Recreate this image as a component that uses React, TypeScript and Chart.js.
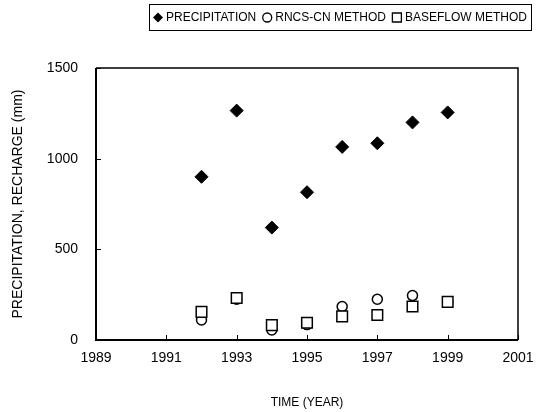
import React, { useEffect, useRef } from "react";
import { Chart, registerables } from "chart.js";

Chart.register(...registerables);

const years = [1992, 1993, 1994, 1995, 1996, 1997, 1998, 1999];
const precipitation = [900, 1265, 620, 815, 1065, 1085, 1200, 1255];
const rncsCn = [110, 225, 55, 85, 185, 225, 245, 210];
const baseflow = [155, 232, 82, 95, 130, 138, 185, 210];
const xTicks = [1989, 1991, 1993, 1995, 1997, 1999, 2001];
const yTicks = [0, 500, 1000, 1500];
const seriesLabels = ["PRECIPITATION", "RNCS-CN METHOD", "BASEFLOW METHOD"];

const FONT = "'Liberation Sans', Arial, sans-serif";

function drawMarker(ctx: CanvasRenderingContext2D, style: string, x: number, y: number) {
  ctx.beginPath();
  if (style === "rectRot") {
    const r = 5;
    ctx.moveTo(x, y - r);
    ctx.lineTo(x + r, y);
    ctx.lineTo(x, y + r);
    ctx.lineTo(x - r, y);
    ctx.closePath();
    ctx.fillStyle = "#000";
    ctx.fill();
  } else if (style === "circle") {
    ctx.arc(x, y, 4.5, 0, Math.PI * 2);
    ctx.fillStyle = "#fff";
    ctx.fill();
    ctx.lineWidth = 1.3;
    ctx.stroke();
  } else {
    ctx.rect(x - 4.5, y - 4.5, 9, 9);
    ctx.fillStyle = "#fff";
    ctx.fill();
    ctx.lineWidth = 1.3;
    ctx.stroke();
  }
}

const framePlugin = {
  id: "frame",
  afterDatasetsDraw(chart: any) {
    const { ctx, chartArea } = chart;
    const { left, right, top, bottom } = chartArea;
    const xs = chart.scales.x;
    const ys = chart.scales.y;
    ctx.save();
    ctx.strokeStyle = "#000";
    ctx.lineWidth = 1.5;
    ctx.beginPath();
    ctx.moveTo(left, top);
    ctx.lineTo(right, top);
    ctx.lineTo(right, bottom);
    ctx.stroke();
    ctx.lineWidth = 2;
    ctx.beginPath();
    ctx.moveTo(left, top);
    ctx.lineTo(left, bottom);
    ctx.lineTo(right, bottom);
    ctx.stroke();
    ctx.lineWidth = 1;
    ctx.beginPath();
    xTicks.forEach((v) => {
      const px = Math.round(xs.getPixelForValue(v)) + 0.5;
      ctx.moveTo(px, bottom);
      ctx.lineTo(px, bottom - 5);
    });
    yTicks.forEach((v) => {
      const py = Math.round(ys.getPixelForValue(v)) + 0.5;
      ctx.moveTo(left, py);
      ctx.lineTo(left + 5, py);
    });
    ctx.stroke();
    ctx.restore();
  },
  afterDraw(chart: any) {
    const { ctx } = chart;
    ctx.save();
    ctx.font = `12px ${FONT}`;
    ctx.textBaseline = "middle";
    ctx.textAlign = "left";
    const markerW = 10;
    const gapMT = 3;
    const gapItems = 6;
    const padX = 4;
    const items = chart.data.datasets.map((d: any) => ({
      label: d.label,
      style: d.pointStyle,
      w: ctx.measureText(d.label).width,
    }));
    const total =
      items.reduce((s: number, it: any) => s + markerW + gapMT + it.w, 0) + gapItems * (items.length - 1) + padX * 2;
    const cx = 340;
    const x0 = Math.round(cx - total / 2);
    const y0 = 4;
    const h = 26;
    const cy = y0 + h / 2 + 0.5;
    ctx.strokeStyle = "#000";
    ctx.lineWidth = 1;
    ctx.strokeRect(x0 + 0.5, y0 + 0.5, Math.round(total), h);
    let x = x0 + padX;
    items.forEach((it: any) => {
      ctx.strokeStyle = "#000";
      drawMarker(ctx, it.style, x + markerW / 2, cy);
      x += markerW + gapMT;
      ctx.fillStyle = "#000";
      ctx.fillText(it.label, x, cy);
      x += it.w + gapItems;
    });
    ctx.restore();
  },
};

export default function App() {
  const ref = useRef<HTMLCanvasElement>(null);
  useEffect(() => {
    if (!ref.current) return;
    const chart = new Chart(ref.current, {
      type: "scatter",
      data: {
        datasets: [
          {
            label: seriesLabels[0],
            data: years.map((y, i) => ({ x: y, y: precipitation[i] })),
            pointStyle: "rectRot",
            pointRadius: 6.5,
            backgroundColor: "#000",
            borderColor: "#000",
            borderWidth: 1,
            order: 0,
          },
          {
            label: seriesLabels[1],
            data: years.map((y, i) => ({ x: y, y: rncsCn[i] })),
            pointStyle: "circle",
            pointRadius: 5,
            backgroundColor: "#fff",
            borderColor: "#000",
            borderWidth: 1.5,
            order: 2,
          },
          {
            label: seriesLabels[2],
            data: years.map((y, i) => ({ x: y, y: baseflow[i] })),
            pointStyle: "rect",
            pointRadius: 7.5,
            backgroundColor: "#fff",
            borderColor: "#000",
            borderWidth: 1.5,
            order: 1,
          },
        ],
      },
      options: {
        animation: false,
        responsive: true,
        maintainAspectRatio: false,
        layout: { padding: { left: 0, right: 31, top: 68, bottom: 0 } },
        plugins: {
          tooltip: { enabled: false },
          legend: { display: false },
        },
        scales: {
          x: {
            type: "linear",
            min: 1989,
            max: 2001,
            grid: { display: false, drawTicks: false },
            border: { display: false },
            afterBuildTicks: (scale: any) => {
              scale.ticks = xTicks.map((v) => ({ value: v }));
            },
            ticks: {
              padding: 10,
              color: "#000",
              font: { family: FONT, size: 14 },
              callback: (v: any) => String(v),
              maxRotation: 0,
            },
            title: {
              display: true,
              text: "TIME (YEAR)",
              color: "#000",
              font: { family: FONT, size: 12 },
              padding: { top: 0, bottom: 2 },
            },
            afterFit: (scale: any) => {
              scale.height = 72;
            },
          },
          y: {
            min: 0,
            max: 1500,
            grid: { display: false, drawTicks: false },
            border: { display: false },
            afterBuildTicks: (scale: any) => {
              scale.ticks = yTicks.map((v) => ({ value: v }));
            },
            ticks: {
              padding: 18,
              color: "#000",
              font: { family: FONT, size: 14 },
              callback: (v: any) => String(v),
            },
            title: {
              display: true,
              text: "PRECIPITATION, RECHARGE (mm)",
              color: "#000",
              font: { family: FONT, size: 14 },
              padding: { top: 10, bottom: 0 },
            },
            afterFit: (scale: any) => {
              scale.width = 96;
            },
          },
        },
      },
      plugins: [framePlugin],
    });
    return () => chart.destroy();
  }, []);
  return (
    <div style={{ position: "absolute", left: 0, top: 0, width: 549, height: 412, background: "#fff" }}>
      <canvas ref={ref} />
    </div>
  );
}
